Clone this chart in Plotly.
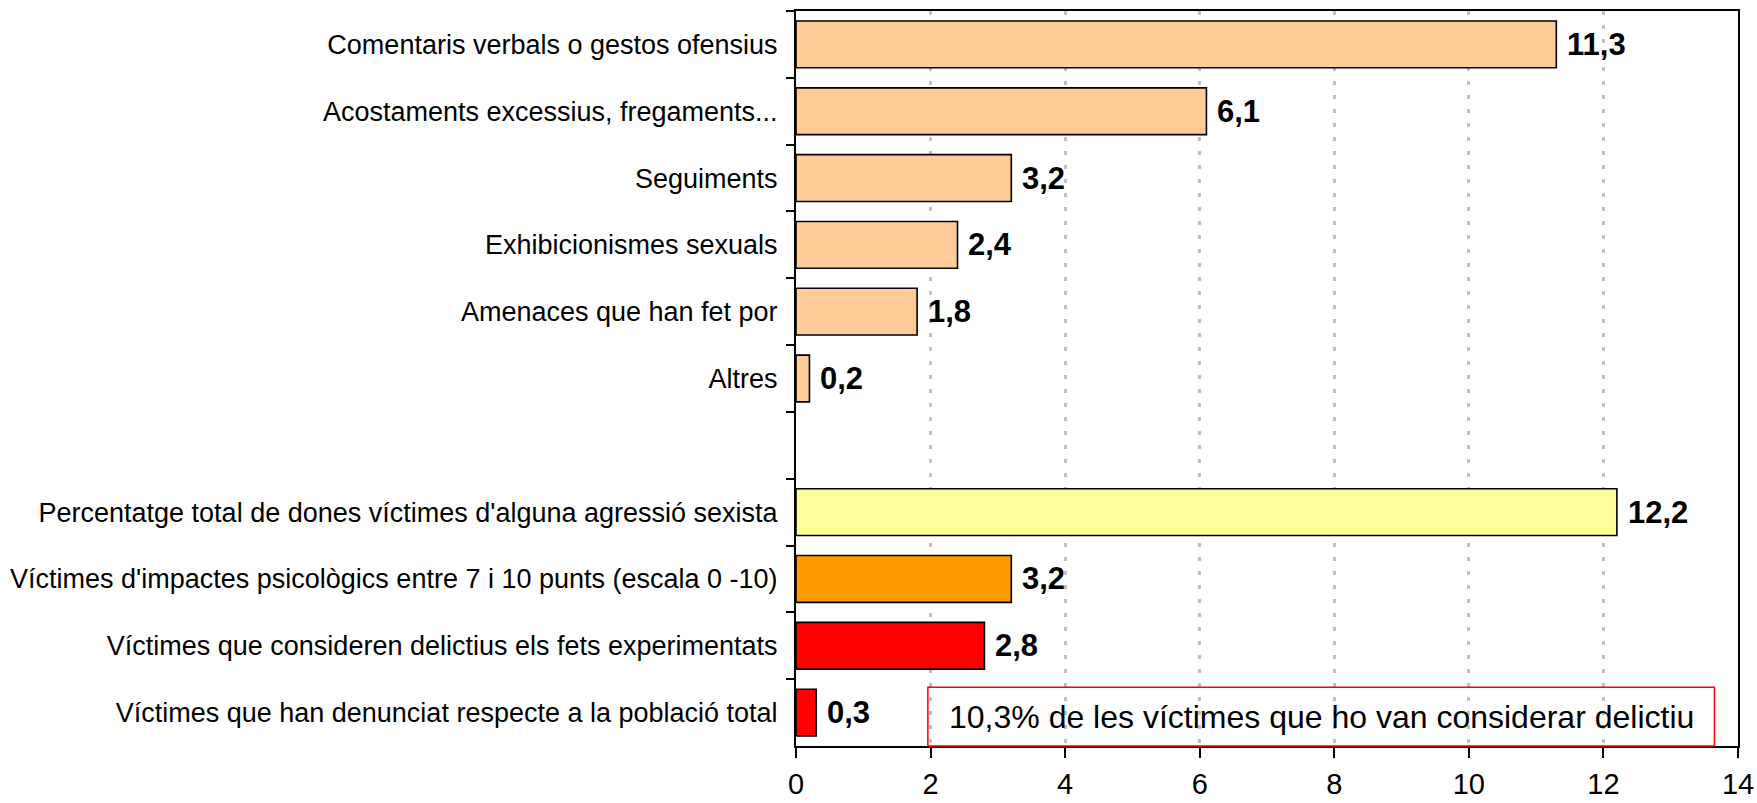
import plotly.graph_objects as go

# --- data ---
aggression_types = [
    "Comentaris verbals o gestos ofensius",
    "Acostaments excessius, fregaments...",
    "Seguiments",
    "Exhibicionismes sexuals",
    "Amenaces que han fet por",
    "Altres",
]
aggression_values = [11.3, 6.1, 3.2, 2.4, 1.8, 0.2]

summary_labels = [
    "Percentatge total de dones víctimes d'alguna agressió sexista",
    "Víctimes d'impactes psicològics entre 7 i 10 punts (escala 0 -10)",
    "Víctimes que consideren delictius els fets experimentats",
    "Víctimes que han denunciat respecte a la població total",
]
summary_values = [12.2, 3.2, 2.8, 0.3]

gap_label = " "
note_text = "10,3% de les víctimes que ho van considerar delictiu"

x_ticks = [0, 2, 4, 6, 8, 10, 12, 14]

# --- styles ---
col_peach = "#FFCC99"
col_summary = ["#FFFF99", "#FF9900", "#FF0000", "#FF0000"]
FONT = "Arial, 'Liberation Sans', sans-serif"

category_order = aggression_types + [gap_label] + summary_labels


def fmt(v):
    return f"{v:.1f}".replace(".", ",")


fig = go.Figure()
fig.add_trace(go.Bar(
    x=aggression_values, y=aggression_types, orientation="h",
    marker=dict(color=col_peach, line=dict(color="black", width=1.6)),
    width=0.7, hoverinfo="skip", showlegend=False,
))
fig.add_trace(go.Bar(
    x=summary_values, y=summary_labels, orientation="h",
    marker=dict(color=col_summary, line=dict(color="black", width=1.6)),
    width=0.7, hoverinfo="skip", showlegend=False,
))

for lab, v in list(zip(aggression_types, aggression_values)) + list(zip(summary_labels, summary_values)):
    fig.add_annotation(
        x=v, y=lab, xref="x", yref="y", text=fmt(v), showarrow=False,
        xanchor="left", yanchor="middle", xshift=9,
        font=dict(family=FONT, size=31, color="black", weight="bold"),
    )

# note box
fig.add_shape(
    type="rect", xref="x", yref="paper", x0=1.96, x1=13.65, y0=0, y1=0.08,
    line=dict(color="#FF0000", width=1.5), fillcolor="rgba(0,0,0,0)", layer="above",
)
fig.add_annotation(
    x=(1.96 + 13.65) / 2, y=0.04, xref="x", yref="paper", text=note_text,
    showarrow=False, xanchor="center", yanchor="middle",
    font=dict(family=FONT, size=32, color="black"),
)

fig.update_layout(
    width=1757, height=803,
    margin=dict(l=796, r=19, t=11, b=57),
    paper_bgcolor="white", plot_bgcolor="white",
    barmode="overlay",
    font=dict(family=FONT, color="black"),
)
fig.update_xaxes(
    range=[0, 14], tickvals=x_ticks, ticktext=[str(t) for t in x_ticks],
    showgrid=True, gridcolor="#C0C0C0", griddash="4px,10px", gridwidth=2.5,
    showline=True, linecolor="black", linewidth=2, mirror=True,
    ticks="outside", ticklen=10, tickwidth=2, tickcolor="black",
    tickfont=dict(family=FONT, size=29, color="black"),
    ticklabelstandoff=1, zeroline=False, automargin=False,
)
fig.update_yaxes(
    type="category", categoryorder="array", categoryarray=category_order,
    range=[len(category_order) - 0.5, -0.5],
    tickson="boundaries", ticks="outside", ticklen=8, tickwidth=2, tickcolor="black",
    showgrid=False, showline=True, linecolor="black", linewidth=2, mirror=True,
    tickfont=dict(family=FONT, size=27, color="black"),
    ticklabelstandoff=11, automargin=False,
)

fig.write_html("out.html", config={"displayModeBar": False})

# remove default page margins so the figure sits at the window origin
with open("out.html", "r", encoding="utf-8") as f:
    html = f.read()
html = html.replace("<head>", "<head><style>html,body{margin:0;padding:0;overflow:hidden;}</style>", 1)
with open("out.html", "w", encoding="utf-8") as f:
    f.write(html)
